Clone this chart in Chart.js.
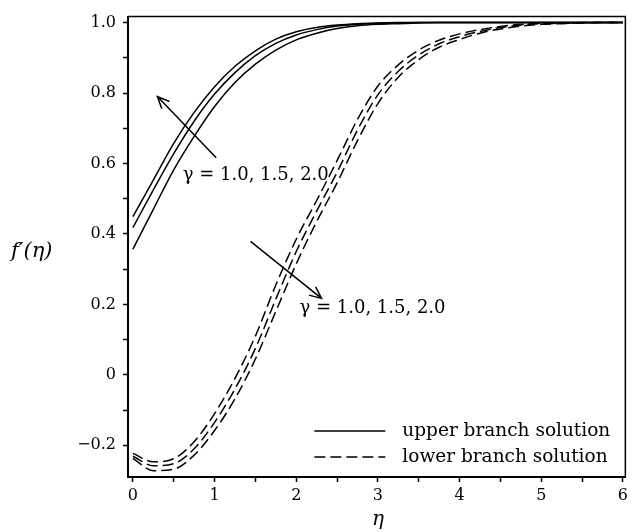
<!DOCTYPE html>
<html>
<head>
<meta charset="utf-8">
<script src="https://cdn.jsdelivr.net/npm/chart.js@4.4.1/dist/chart.umd.min.js"></script>
<style>
  html, body { margin: 0; padding: 0; background: #fff; }
  #wrap { width: 632px; height: 532px; }
</style>
</head>
<body>
<div id="wrap"><canvas id="chart" width="632" height="532"></canvas></div>
<script>
// eta grid (step 0.25)
const eta = [0, 0.25, 0.5, 0.75, 1, 1.25, 1.5, 1.75, 2, 2.25, 2.5, 2.75, 3,
  3.25, 3.5, 3.75, 4, 4.25, 4.5, 4.75, 5, 5.25, 5.5, 5.75, 6];

// upper branch (solid)
const upperG20 = [0.449, 0.553, 0.657, 0.745, 0.818, 0.876, 0.920, 0.953, 0.974, 0.986, 0.993, 0.997, 0.999,
  1, 1, 1, 1, 1, 1, 1, 1, 1, 1, 1, 1];
const upperG15 = [0.418, 0.525, 0.628, 0.720, 0.797, 0.858, 0.906, 0.941, 0.965, 0.980, 0.990, 0.995, 0.998,
  0.999, 1, 1, 1, 1, 1, 1, 1, 1, 1, 1, 1];
const upperG10 = [0.357, 0.470, 0.582, 0.677, 0.762, 0.830, 0.882, 0.922, 0.951, 0.970, 0.983, 0.991, 0.995,
  0.997, 0.999, 1, 1, 1, 1, 1, 1, 1, 1, 1, 1];

// lower branch (dashed)
const lowerG10 = [-0.223, -0.247, -0.238, -0.190, -0.110, -0.010, 0.110, 0.255, 0.385, 0.495, 0.608, 0.725, 0.820,
  0.880, 0.922, 0.950, 0.968, 0.980, 0.989, 0.995, 0.998, 0.999, 1, 1, 1];
const lowerG15 = [-0.231, -0.258, -0.252, -0.210, -0.135, -0.040, 0.075, 0.215, 0.350, 0.465, 0.575, 0.695, 0.795,
  0.862, 0.908, 0.940, 0.960, 0.975, 0.986, 0.993, 0.997, 0.998, 0.999, 1, 1];
const lowerG20 = [-0.237, -0.272, -0.268, -0.228, -0.158, -0.068, 0.045, 0.180, 0.315, 0.435, 0.545, 0.665, 0.770,
  0.845, 0.895, 0.930, 0.952, 0.970, 0.982, 0.990, 0.995, 0.997, 0.999, 1, 1];

// axis ticks
const xTickValues = [0, 0.5, 1, 1.5, 2, 2.5, 3, 3.5, 4, 4.5, 5, 5.5, 6];
const xTickLabels = ["0", "", "1", "", "2", "", "3", "", "4", "", "5", "", "6"];
const yTickValues = [-0.2, -0.1, 0, 0.1, 0.2, 0.3, 0.4, 0.5, 0.6, 0.7, 0.8, 0.9, 1.0];
const yTickLabels = ["\u22120.2", "", "0", "", "0.2", "", "0.4", "", "0.6", "", "0.8", "", "1.0"];

const legendLabels = ["upper branch solution", "lower branch solution"];
const gammaLabel = "\u03B3 = 1.0, 1.5, 2.0";

const FONT = "'DejaVu Serif', 'Liberation Serif', serif";

function toPoints(values) {
  return eta.map((e, i) => ({ x: e, y: values[i] }));
}

function lineSet(label, values, dashed) {
  return {
    label: label,
    data: toPoints(values),
    borderColor: "#000",
    borderWidth: 1.5,
    borderDash: dashed ? [11, 5] : [],
    pointRadius: 0,
    fill: false,
    cubicInterpolationMode: "monotone"
  };
}

function drawArrow(ctx, x1, y1, x2, y2) {
  const ang = Math.atan2(y2 - y1, x2 - x1);
  const len = 13;
  ctx.beginPath();
  ctx.moveTo(x1, y1);
  ctx.lineTo(x2, y2);
  ctx.moveTo(x2 - len * Math.cos(ang - 0.42), y2 - len * Math.sin(ang - 0.42));
  ctx.lineTo(x2, y2);
  ctx.lineTo(x2 - len * Math.cos(ang + 0.42), y2 - len * Math.sin(ang + 0.42));
  ctx.stroke();
}

const extrasPlugin = {
  id: "extras",
  afterDatasetsDraw(chart) {
    const { ctx, chartArea, scales } = chart;
    const x = scales.x, y = scales.y;
    ctx.save();
    ctx.strokeStyle = "#000";
    ctx.fillStyle = "#000";
    ctx.setLineDash([]);

    // top and right frame
    ctx.lineWidth = 1.5;
    ctx.beginPath();
    ctx.moveTo(chartArea.left, chartArea.top);
    ctx.lineTo(chartArea.right, chartArea.top);
    ctx.lineTo(chartArea.right, chartArea.bottom);
    ctx.stroke();

    // arrows
    drawArrow(ctx, x.getPixelForValue(1.02), y.getPixelForValue(0.616),
      x.getPixelForValue(0.30), y.getPixelForValue(0.79));
    drawArrow(ctx, x.getPixelForValue(1.44), y.getPixelForValue(0.379),
      x.getPixelForValue(2.31), y.getPixelForValue(0.217));

    // gamma labels
    ctx.font = "18px " + FONT;
    ctx.textAlign = "left";
    ctx.textBaseline = "middle";
    ctx.fillText(gammaLabel, x.getPixelForValue(0.61), y.getPixelForValue(0.565));
    ctx.fillText(gammaLabel, x.getPixelForValue(2.04), y.getPixelForValue(0.19));

    // legend
    const rows = [chartArea.bottom - 46, chartArea.bottom - 20];
    ctx.font = "18.5px " + FONT;
    rows.forEach((ry, i) => {
      ctx.setLineDash(i === 0 ? [] : [11, 5]);
      ctx.lineWidth = 1.5;
      ctx.beginPath();
      ctx.moveTo(chartArea.right - 311, ry);
      ctx.lineTo(chartArea.right - 240, ry);
      ctx.stroke();
      ctx.setLineDash([]);
      ctx.fillText(legendLabels[i], chartArea.right - 223, ry);
    });

    // axis titles
    ctx.font = "italic 21px " + FONT;
    ctx.fillText("f\u2032(\u03B7)", 11, y.getPixelForValue(0.35));
    ctx.textAlign = "center";
    ctx.font = "italic 20px " + FONT;
    ctx.fillText("\u03B7", x.getPixelForValue(3), chartArea.bottom + 43);
    ctx.restore();
  }
};

new Chart(document.getElementById("chart"), {
  type: "line",
  data: {
    datasets: [
      lineSet("upper \u03B3=2.0", upperG20, false),
      lineSet("upper \u03B3=1.5", upperG15, false),
      lineSet("upper \u03B3=1.0", upperG10, false),
      lineSet("lower \u03B3=1.0", lowerG10, true),
      lineSet("lower \u03B3=1.5", lowerG15, true),
      lineSet("lower \u03B3=2.0", lowerG20, true)
    ]
  },
  options: {
    responsive: false,
    animation: false,
    layout: { padding: { top: 8, right: 2, left: 0, bottom: 0 } },
    plugins: { legend: { display: false }, tooltip: { enabled: false } },
    scales: {
      x: {
        type: "linear",
        min: -0.06,
        max: 6.03,
        afterBuildTicks: s => { s.ticks = xTickValues.map(v => ({ value: v })); },
        afterFit: s => { s.height = 55; },
        ticks: {
          color: "#000",
          padding: 4,
          maxRotation: 0,
          autoSkip: false,
          font: { family: FONT, size: 16 },
          callback: (v, i) => xTickLabels[i]
        },
        grid: { drawOnChartArea: false, drawTicks: true, tickLength: 5, tickColor: "#000", tickWidth: 1.5 },
        border: { color: "#000", width: 2 }
      },
      y: {
        type: "linear",
        min: -0.29,
        max: 1.017,
        afterBuildTicks: s => { s.ticks = yTickValues.map(v => ({ value: v })); },
        afterFit: s => { s.width = 128; },
        ticks: {
          color: "#000",
          padding: 7,
          autoSkip: false,
          font: { family: FONT, size: 16 },
          callback: (v, i) => yTickLabels[i]
        },
        grid: { drawOnChartArea: false, drawTicks: true, tickLength: 5, tickColor: "#000", tickWidth: 1.5 },
        border: { color: "#000", width: 2 }
      }
    }
  },
  plugins: [extrasPlugin]
});
</script>
</body>
</html>
